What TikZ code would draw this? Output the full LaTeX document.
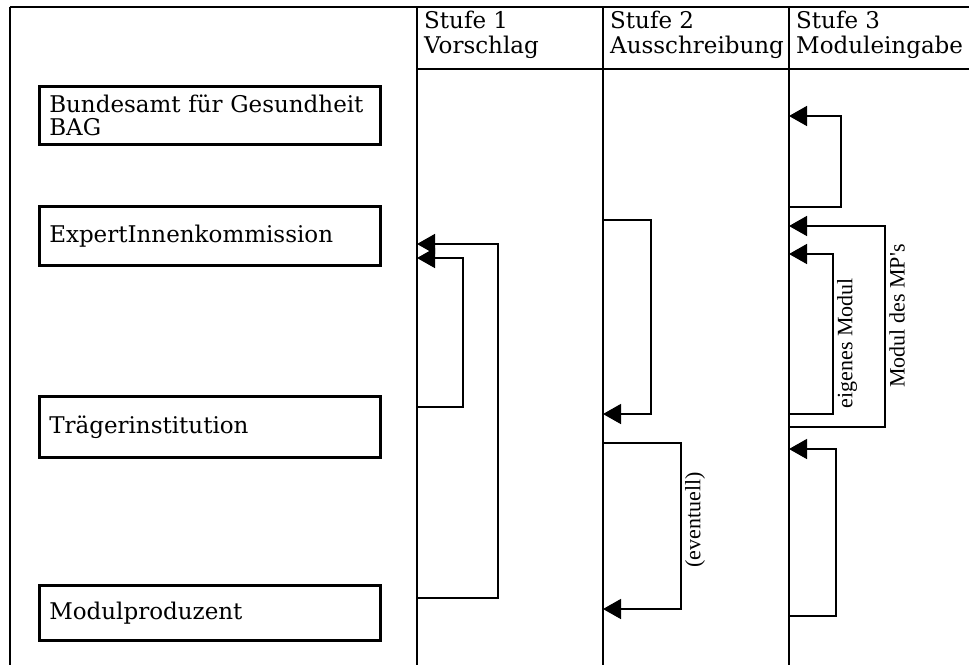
\documentclass[tikz,border=0pt]{standalone}
\usepackage{fontspec}
\setmainfont{DejaVu Serif}
\newfontfamily\labelfont{Liberation Serif}
\usetikzlibrary{arrows.meta}
\begin{document}
\begin{tikzpicture}[x=1pt,y=-1pt,
  frame/.style={line width=2pt},
  actor/.style={draw, line width=2.5pt, minimum width=341pt, text width=321pt,
    inner xsep=10pt, inner ysep=0pt, align=left, anchor=north west,
    font=\fontsize{23}{22.5}\selectfont},
  head/.style={anchor=north west, inner xsep=7pt, inner ysep=4pt, align=left,
    font=\fontsize{23}{24.5}\selectfont},
  conn/.style={line width=1.5pt},
  flow/.style={conn, -{Triangle[length=18pt,width=20pt]}},
  note/.style={rotate=90, inner sep=0pt, font=\labelfont\fontsize{22}{24}\selectfont}
]
\useasboundingbox (0,0) rectangle (969,665);

% table frame
\coordinate (tl) at (9.5,7);
\coordinate (tr) at (969,7);
\coordinate (bl) at (9.5,665);
\draw[frame] (tl) -- (tr);
\draw[frame] (tl) -- (bl);
\foreach \x/\n in {417/s1, 603/s2, 789/s3}{
  \coordinate (\n top) at (\x,7);
  \coordinate (\n bot) at (\x,665);
  \draw[frame] (\n top) -- (\n bot);
}
\coordinate (hl) at (417,69);
\coordinate (hr) at (969,69);
\draw[frame] (hl) -- (hr);

% column headings
\node[head] (h1) at (417,7) {Stufe 1\\Vorschlag};
\node[head] (h2) at (603,7) {Stufe 2\\Ausschreibung};
\node[head] (h3) at (789,7) {Stufe 3\\Moduleingabe};

% actors
\node[actor, minimum height=58pt] (bag) at (38,85) {Bundesamt für Gesundheit\\BAG};
\node[actor, minimum height=59pt] (ek)  at (38,205) {ExpertInnenkommission};
\node[actor, minimum height=61pt] (ti)  at (38,395) {Trägerinstitution};
\node[actor, minimum height=55pt] (mp)  at (38,584) {Modulproduzent};

% Stufe 1: proposals go to the commission
\coordinate (a1s) at (417,598); \coordinate (a1e) at (417,244);
\draw[flow] (a1s) -- (498,598) -- (498,244) -- (a1e);
\coordinate (a2s) at (417,407); \coordinate (a2e) at (417,258);
\draw[flow] (a2s) -- (463,407) -- (463,258) -- (a2e);

% Stufe 2: call for tenders
\coordinate (b1s) at (603,220); \coordinate (b1e) at (603,414);
\draw[flow] (b1s) -- (651,220) -- (651,414) -- (b1e);
\coordinate (b2s) at (603,443); \coordinate (b2e) at (603,609);
\draw[flow] (b2s) -- (681,443) -- (681,609) -- (b2e);
\node[note] (ev) at (695,520) {(eventuell)};

% Stufe 3: module submission
\coordinate (c1s) at (789,207); \coordinate (c1e) at (789,116);
\draw[flow] (c1s) -- (841,207) -- (841,116) -- (c1e);
\coordinate (c2s) at (789,427); \coordinate (c2e) at (789,226);
\draw[flow] (c2s) -- (885,427) -- (885,226) -- (c2e);
\node[note] (mpm) at (897,316) {Modul des MP's};
\coordinate (c3s) at (789,414); \coordinate (c3e) at (789,254);
\draw[flow] (c3s) -- (833,414) -- (833,254) -- (c3e);
\node[note] (own) at (847,343) {eigenes Modul};
\coordinate (c4s) at (789,616); \coordinate (c4e) at (789,449);
\draw[flow] (c4s) -- (836,616) -- (836,449) -- (c4e);
\end{tikzpicture}
\end{document}
